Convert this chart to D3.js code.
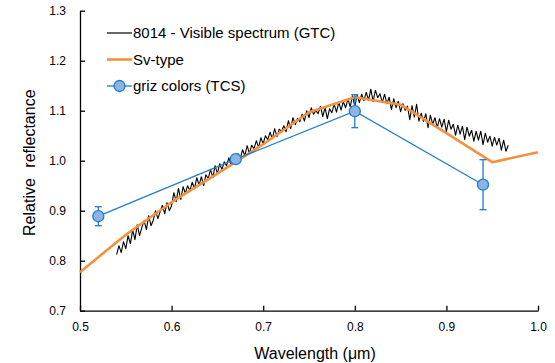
<!DOCTYPE html>
<html>
<head>
<meta charset="utf-8">
<script src="https://cdn.jsdelivr.net/npm/d3@7"></script>
<style>
  body { margin: 0; background: #fff; }
  text { font-family: "Liberation Sans", Arial, sans-serif; fill: #000; }
</style>
</head>
<body>
<div id="chart"></div>
<script>
// Sv-type template (Bus-DeMeo)
var svWave = [0.50, 0.55, 0.60, 0.65, 0.70, 0.75, 0.80, 0.85, 0.90, 0.95, 1.00];
var svRefl = [0.777, 0.852, 0.917, 0.974, 1.033, 1.097, 1.127, 1.112, 1.055, 0.997, 1.017];

// griz colours (TCS)
var grizWave = [0.52, 0.67, 0.80, 0.94];
var grizRefl = [0.889, 1.003, 1.099, 0.952];
var grizErr = [0.019, 0.004, 0.033, 0.050];

// GTC visible spectrum, sampled every 0.0025 um from 0.54
var specStart = 0.54;
var specStep = 0.0025;
var specRefl = [
  0.812, 0.830, 0.816, 0.838,
  0.824, 0.850, 0.834, 0.861,
  0.842, 0.872, 0.850, 0.866,
  0.880, 0.862, 0.890, 0.870,
  0.881, 0.900, 0.884, 0.898,
  0.911, 0.894, 0.916, 0.900,
  0.910, 0.936, 0.918, 0.945,
  0.922, 0.948, 0.935, 0.950,
  0.940, 0.957, 0.944, 0.966,
  0.951, 0.968, 0.950, 0.972,
  0.964, 0.982, 0.966, 0.990,
  0.974, 0.994, 0.982, 0.998,
  0.990, 1.006, 0.990, 1.011,
  0.998, 1.014, 1.004, 1.022,
  1.010, 1.030, 1.014, 1.031,
  1.024, 1.040, 1.026, 1.046,
  1.034, 1.050, 1.042, 1.057,
  1.044, 1.064, 1.048, 1.063,
  1.058, 1.070, 1.058, 1.080,
  1.064, 1.086, 1.072, 1.085,
  1.078, 1.093, 1.079, 1.100,
  1.086, 1.106, 1.093, 1.100,
  1.094, 1.109, 1.088, 1.106,
  1.084, 1.104, 1.096, 1.113,
  1.097, 1.117, 1.101, 1.118,
  1.106, 1.123, 1.108, 1.130,
  1.108, 1.131, 1.116, 1.133,
  1.120, 1.137, 1.121, 1.143,
  1.118, 1.141, 1.126, 1.134,
  1.116, 1.133, 1.114, 1.127,
  1.102, 1.124, 1.106, 1.119,
  1.098, 1.114, 1.101, 1.109,
  1.082, 1.110, 1.087, 1.113,
  1.079, 1.095, 1.078, 1.094,
  1.066, 1.091, 1.073, 1.086,
  1.066, 1.084, 1.067, 1.083,
  1.058, 1.081, 1.063, 1.073,
  1.051, 1.071, 1.053, 1.069,
  1.042, 1.067, 1.049, 1.061,
  1.039, 1.059, 1.041, 1.059,
  1.032, 1.055, 1.037, 1.049,
  1.029, 1.047, 1.031, 1.045,
  1.021, 1.041, 1.019, 1.031
];

var xTicks = [0.5, 0.6, 0.7, 0.8, 0.9, 1.0];
var yTicks = [0.7, 0.8, 0.9, 1.0, 1.1, 1.2, 1.3];

var legendLabels = ["8014 - Visible spectrum (GTC)", "Sv-type", "griz colors (TCS)"];

var width = 555, height = 363;
var margin = { top: 10.7, right: 17, bottom: 52.3, left: 80 };

var svg = d3.select('#chart')
  .append('svg')
  .attr('width', width)
  .attr('height', height);

var x = d3.scaleLinear().domain([0.5, 1.0]).range([margin.left, width - margin.right]);
var y = d3.scaleLinear().domain([0.7, 1.3]).range([height - margin.bottom, margin.top]);

//axes
var xAxis = svg.append('g')
  .attr('transform', 'translate(0,' + y(0.7) + ')')
  .call(d3.axisBottom(x).tickValues(xTicks).tickFormat(d3.format('.1f')).tickSizeInner(-5).tickSizeOuter(0).tickPadding(12));
var yAxis = svg.append('g')
  .attr('transform', 'translate(' + x(0.5) + ',0)')
  .call(d3.axisLeft(y).tickValues(yTicks).tickFormat(d3.format('.1f')).tickSizeInner(-5).tickSizeOuter(0).tickPadding(14));
[xAxis, yAxis].forEach(function (a) {
  a.select('.domain').attr('stroke', '#000').attr('stroke-width', 1.3);
  a.selectAll('.tick line').attr('stroke', '#000').attr('stroke-width', 1.3);
  a.selectAll('.tick text').style('font-size', '12px').style('font-family', '"Liberation Sans", Arial, sans-serif');
});

//axis titles
svg.append('text')
  .attr('x', (x(0.5) + x(1.0)) / 2 + 6)
  .attr('y', 359)
  .attr('text-anchor', 'middle')
  .style('font-size', '16px')
  .text('Wavelength (\u03bcm)');
svg.append('text')
  .attr('transform', 'translate(35,' + ((y(0.7) + y(1.3)) / 2 + 2) + ') rotate(-90)')
  .attr('text-anchor', 'middle')
  .style('font-size', '16px')
  .style('word-spacing', '6px')
  .text('Relative reflectance');

//spectrum
var specData = specRefl.map(function (v, i) { return [specStart + i * specStep, v]; });
var line = d3.line().x(function (d) { return x(d[0]); }).y(function (d) { return y(d[1]); });
svg.append('path')
  .datum(specData)
  .attr('d', line)
  .attr('fill', 'none')
  .attr('stroke', '#000')
  .attr('stroke-width', 1.1)
  .attr('stroke-linejoin', 'round');

//Sv-type
svg.append('path')
  .datum(svWave.map(function (w, i) { return [w, svRefl[i]]; }))
  .attr('d', line)
  .attr('fill', 'none')
  .attr('stroke', '#F5913C')
  .attr('stroke-width', 2.6)
  .attr('stroke-linejoin', 'round');

//griz
var griz = grizWave.map(function (w, i) { return { w: w, r: grizRefl[i], e: grizErr[i] }; });
svg.append('path')
  .datum(griz.map(function (d) { return [d.w, d.r]; }))
  .attr('d', line)
  .attr('fill', 'none')
  .attr('stroke', '#1F7DD0')
  .attr('stroke-width', 1.3);
var eb = svg.selectAll('.err').data(griz).enter().append('g').attr('class', 'err')
  .attr('stroke', '#1F7DD0').attr('stroke-width', 1.3);
eb.append('line')
  .attr('x1', function (d) { return x(d.w); }).attr('x2', function (d) { return x(d.w); })
  .attr('y1', function (d) { return y(d.r - d.e); }).attr('y2', function (d) { return y(d.r + d.e); });
eb.append('line')
  .attr('x1', function (d) { return x(d.w) - 3.5; }).attr('x2', function (d) { return x(d.w) + 3.5; })
  .attr('y1', function (d) { return y(d.r - d.e); }).attr('y2', function (d) { return y(d.r - d.e); });
eb.append('line')
  .attr('x1', function (d) { return x(d.w) - 3.5; }).attr('x2', function (d) { return x(d.w) + 3.5; })
  .attr('y1', function (d) { return y(d.r + d.e); }).attr('y2', function (d) { return y(d.r + d.e); });
svg.selectAll('.mk').data(griz).enter().append('circle')
  .attr('cx', function (d) { return x(d.w); })
  .attr('cy', function (d) { return y(d.r); })
  .attr('r', 5.5)
  .attr('fill', '#8DB4E2')
  .attr('stroke', '#1F7DD0')
  .attr('stroke-width', 1.3);

//legend
var legColors = ['#404040', '#F5913C', '#1F7DD0'];
var legWidths = [1.6, 2.6, 1.3];
var leg = svg.selectAll('.leg').data(legendLabels).enter().append('g')
  .attr('transform', function (d, i) { return 'translate(107,' + (33 + i * 26.5) + ')'; });
leg.append('line')
  .attr('x1', 0).attr('x2', 25)
  .attr('stroke', function (d, i) { return legColors[i]; })
  .attr('stroke-width', function (d, i) { return legWidths[i]; });
leg.filter(function (d, i) { return i == 2; }).append('circle')
  .attr('cx', 12.5).attr('r', 5.5)
  .attr('fill', '#8DB4E2').attr('stroke', '#1F7DD0').attr('stroke-width', 1.3);
leg.append('text')
  .attr('x', 26).attr('dy', '0.35em')
  .style('font-size', '15px')
  .text(function (d) { return d; });
</script>
</body>
</html>
